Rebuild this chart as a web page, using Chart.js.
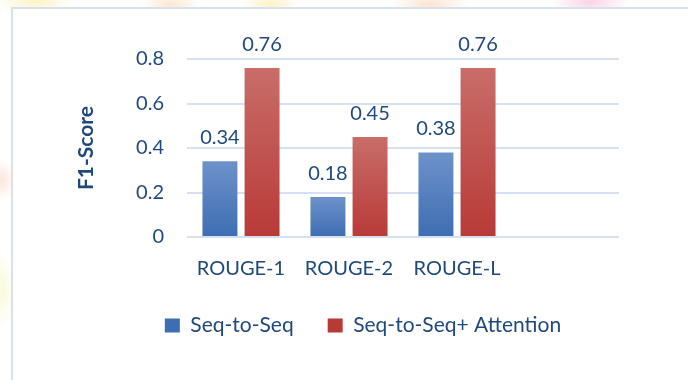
<!DOCTYPE html>
<html>
<head>
<meta charset="utf-8">
<title>F1-Score by ROUGE metric</title>
<script src="https://cdn.jsdelivr.net/npm/chart.js@4/dist/chart.umd.min.js"></script>
<style>
  html, body { margin: 0; padding: 0; width: 688px; height: 380px; overflow: hidden; background: #fff; }
  /* faint slide decoration peeking round the chart frame */
  #bg {
    position: absolute; left: 0; top: 0; width: 688px; height: 380px;
    background:
      radial-gradient(ellipse 40px 14px at 35px 2px, #fdf3c8 0%, rgba(255,255,255,0) 100%),
      radial-gradient(ellipse 30px 12px at 170px 4px, #fde7cf 0%, rgba(255,255,255,0) 100%),
      radial-gradient(ellipse 30px 12px at 270px 4px, #fef2c4 0%, rgba(255,255,255,0) 100%),
      radial-gradient(ellipse 40px 12px at 430px 4px, #fde3d0 0%, rgba(255,255,255,0) 100%),
      radial-gradient(ellipse 40px 12px at 590px 2px, #fbd2e6 0%, rgba(255,255,255,0) 100%),
      radial-gradient(ellipse 14px 20px at 2px 180px, #fde6da 0%, rgba(255,255,255,0) 100%),
      radial-gradient(ellipse 14px 40px at 2px 290px, #fafadc 0%, rgba(255,255,255,0) 100%),
      #fff;
  }
  #frame {
    position: absolute; left: 11px; top: 7px; width: 700px; height: 400px;
    border-left: 2px solid #d6e0f1; border-top: 2px solid #d6e0f1; background: #fff;
  }
  #wrap { position: absolute; left: 0; top: 0; width: 688px; height: 380px; }
</style>
</head>
<body>
<div id="bg"></div>
<div id="frame"></div>
<div id="wrap"><canvas id="chart" width="688" height="380"></canvas></div>
<script>
// data (4th category is an empty slot, as in the original sheet)
var categories = ['ROUGE-1', 'ROUGE-2', 'ROUGE-L', ''];
var seqToSeq = [0.34, 0.18, 0.38, null];
var seqToSeqAttention = [0.76, 0.45, 0.76, null];
var seriesNames = ['Seq-to-Seq', 'Seq-to-Seq+ Attention'];
var yMin = 0, yMax = 0.8, yStep = 0.2;

var textColor = '#1f497d';
var fontFamily = 'Lato, "Open Sans", sans-serif';

// each bar gets its own top-to-bottom gradient, like the office fill
function barFill(top, bottom, flat) {
	return function( ctx ) {
		if( ctx.type !== 'data' || ctx.raw == null ) return flat;
		var y = ctx.chart.scales.y;
		if( !y ) return flat;
		var y0 = y.getPixelForValue( ctx.raw );
		var y1 = y.getPixelForValue( 0 );
		if( !isFinite(y0) || !isFinite(y1) || y0 === y1 ) return flat;
		var g = ctx.chart.ctx.createLinearGradient( 0, y0, 0, y1 );
		g.addColorStop( 0, top );
		g.addColorStop( 1, bottom );
		return g;
	};
}

// numbers above the bars
var valueLabels = {
	id: 'valueLabels',
	afterDatasetsDraw: function( chart ) {
		var c = chart.ctx;
		c.save();
		c.font = '20px ' + fontFamily;
		c.fillStyle = textColor;
		c.textAlign = 'center';
		c.textBaseline = 'alphabetic';
		chart.data.datasets.forEach(function( ds, i ) {
			chart.getDatasetMeta(i).data.forEach(function( bar, j ) {
				if( ds.data[j] == null ) return;
				c.fillText( ds.data[j].toFixed(2), bar.x, bar.y - 17 );
			});
		});
		c.restore();
	}
};

var ctx = document.getElementById('chart').getContext('2d');
var chart = new Chart(ctx, {
	type: 'bar',
	data: {
		labels: categories,
		datasets: [{
			label: seriesNames[0],
			data: seqToSeq,
			backgroundColor: barFill('#6d92ca', '#3d6db3', '#557fc0'),
			borderWidth: 0
		}, {
			label: seriesNames[1],
			data: seqToSeqAttention,
			backgroundColor: barFill('#c96d69', '#b83a37', '#c04f4b'),
			borderWidth: 0
		}]
	},
	options: {
		responsive: false,
		animation: false,
		events: [],
		categoryPercentage: 0.78,
		barPercentage: 0.83,
		layout: {
			padding: { left: 107, right: 69, top: 59, bottom: 34 }
		},
		scales: {
			x: {
				afterFit: function( scale ) { scale.height = 44; },
				grid: { display: false },
				border: { display: false },
				ticks: {
					color: textColor,
					font: { family: fontFamily, size: 20 },
					padding: 12,
					maxRotation: 0
				}
			},
			y: {
				min: yMin,
				max: yMax,
				afterFit: function( scale ) { scale.width = 80; },
				grid: { color: '#d6e0f1', lineWidth: 2, drawTicks: false },
				border: { display: false },
				ticks: {
					stepSize: yStep,
					color: textColor,
					font: { family: fontFamily, size: 20 },
					padding: 23,
					callback: function( v ) { return +v.toFixed(1) + ''; }
				},
				title: {
					display: true,
					text: 'F1-Score',
					color: textColor,
					font: { family: fontFamily, size: 21, weight: 'bold' },
					padding: { top: -33, bottom: 0 }
				}
			}
		},
		plugins: {
			legend: {
				position: 'bottom',
				labels: {
					color: textColor,
					font: { family: fontFamily, size: 21 },
					boxWidth: 15,
					boxHeight: 14,
					padding: 34
				}
			},
			tooltip: { enabled: false }
		}
	},
	plugins: [ valueLabels ]
});
</script>
</body>
</html>
